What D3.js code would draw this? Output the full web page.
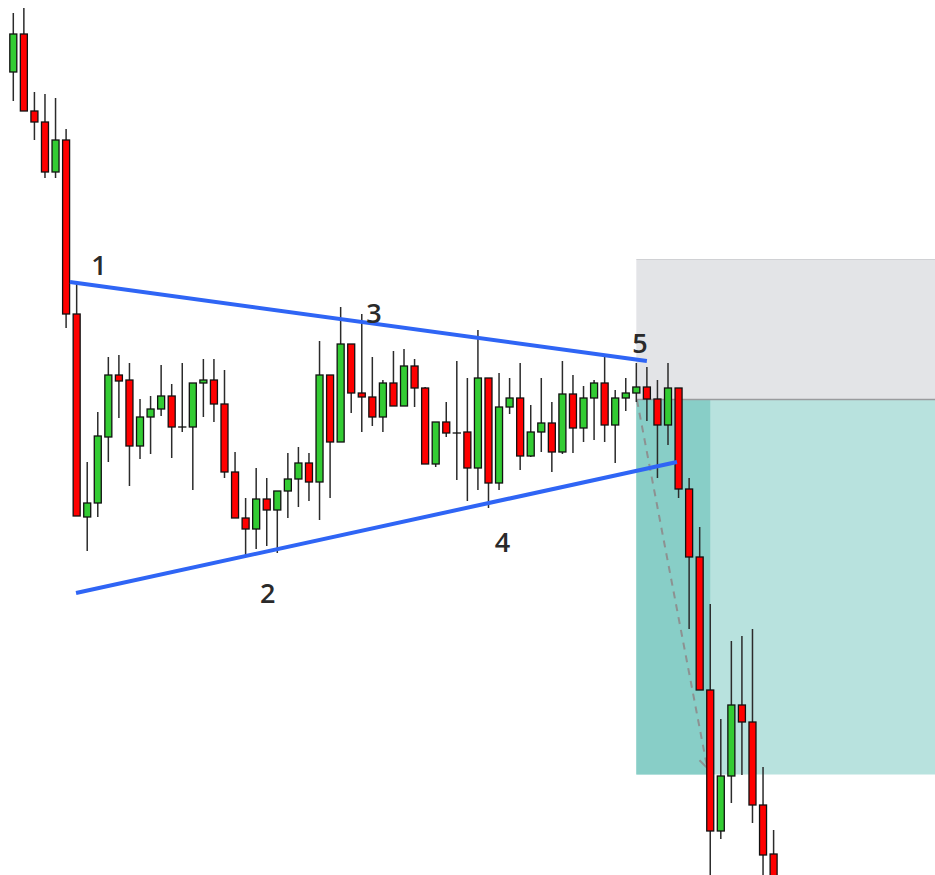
<!DOCTYPE html>
<html>
<head>
<meta charset="utf-8">
<script src="https://cdn.jsdelivr.net/npm/d3@7"></script>
<style>
  html, body { margin: 0; padding: 0; background: #ffffff; overflow: hidden; }
  svg { display: block; }
</style>
</head>
<body>
<svg id="chart" width="935" height="875"></svg>
<script>
// ---- Data (prices) ----
const opens  = [182.8,186.6,178.9,177.8,172.8,176.0,158.6,138.3,139.7,146.3,152.5,152.0,145.4,148.3,149.1,150.4,147.3,147.3,151.7,152.0,149.6,142.8,138.2,137.1,140.1,139.0,140.9,142.1,143.7,141.8,152.5,145.8,155.6,150.7,150.3,148.3,151.7,149.4,153.4,151.2,143.6,147.8,146.7,146.8,143.2,152.2,141.7,149.3,150.2,144.4,146.8,147.7,144.8,150.6,147.2,150.2,151.7,147.5,150.2,150.7,151.3,150.1,147.5,151.2,141.1,134.3,121.0,106.9,112.4,119.5,117.8,109.5,104.6];
const highs  = [188.7,189.2,180.8,180.6,180.2,177.1,161.8,143.8,148.8,154.3,154.5,153.7,150.1,150.4,153.5,151.6,153.7,151.7,154.1,154.1,153.0,144.8,140.2,143.2,142.2,140.9,144.7,145.3,144.7,155.9,152.5,159.3,155.6,158.6,154.3,152.0,154.9,155.1,154.1,151.3,147.8,149.8,153.9,152.2,157.0,152.2,152.7,152.2,153.7,149.5,152.2,149.8,153.9,152.5,151.4,152.0,154.6,151.0,152.2,153.7,153.3,152.0,153.7,151.2,142.2,137.3,129.6,118.1,125.9,126.4,127.1,113.3,107.0];
const lows   = [179.9,178.9,176.0,172.2,172.2,157.2,138.4,134.9,138.3,143.8,148.2,141.4,144.1,144.6,148.4,144.2,146.8,141.0,148.3,147.8,142.2,138.2,134.3,135.1,135.4,134.7,138.2,139.3,139.9,138.0,140.2,145.8,148.7,146.8,147.4,146.8,149.4,149.4,149.3,143.6,143.3,146.3,142.0,139.9,141.0,139.2,141.0,148.6,143.0,144.3,144.8,142.8,144.6,144.7,145.8,146.0,145.8,143.7,148.9,149.8,147.9,142.2,145.5,140.2,127.1,121.0,102.0,106.1,109.7,112.5,107.7,102.0,100.0];
const closes = [186.6,178.9,177.8,172.8,176.0,158.6,138.4,139.7,146.4,152.5,151.9,145.4,148.3,149.1,150.4,147.3,147.3,151.7,152.0,149.6,142.8,138.2,137.1,140.1,139.0,140.9,142.1,143.7,141.8,152.5,145.8,155.6,150.7,150.3,148.3,151.7,149.4,153.4,151.2,143.6,147.8,146.7,146.7,143.2,152.2,141.7,149.3,150.2,144.4,146.8,147.7,144.8,150.6,147.2,150.2,151.7,147.5,150.2,150.7,151.3,150.1,147.5,151.2,141.1,134.3,121.0,106.9,112.4,119.5,117.8,109.5,104.5,100.5];

// Trendlines: [startIndex, startPrice, endIndex, endPrice]
const upperLine = [5.37, 161.8, 60.0, 153.9];
const lowerLine = [5.94, 130.7, 62.85, 143.8];

// Swing-point labels
const labelTexts  = ["1", "2", "3", "4", "5"];
const labelIndex  = [8.12, 24.1, 34.16, 46.33, 59.35];
const labelPrice  = [162.5, 129.7, 157.7, 134.8, 154.7];

// Short-position tool: entry, stop, target, start bar, end-of-trade bar
const positionStart = 59.0;
const positionFillEnd = 66.0;
const stopPrice = 164.05;
const entryPrice = 150.05;
const targetPrice = 112.55;
const pathLine = [59.06, 150.0, 65.72, 113.2];

// ---- Scales ----
const W = 935, H = 875;
const svg = d3.select("#chart");
const x = d3.scaleLinear().domain([0, 72]).range([13.3, 773.6]);
const y = d3.scaleLinear().domain([102.5, 190]).range([H, 0]);
const bodyW = 7;

// ---- Position boxes ----
const gPos = svg.append("g");
gPos.append("rect")
  .attr("x", x(positionStart)).attr("y", y(stopPrice))
  .attr("width", W - x(positionStart)).attr("height", y(entryPrice) - y(stopPrice))
  .attr("fill", "#e3e4e7");
gPos.append("line")
  .attr("x1", x(positionStart)).attr("x2", W)
  .attr("y1", y(stopPrice)).attr("y2", y(stopPrice))
  .attr("stroke", "#d0d1d4").attr("stroke-width", 1.2);
gPos.append("rect")
  .attr("x", x(positionStart)).attr("y", y(entryPrice))
  .attr("width", W - x(positionStart)).attr("height", y(targetPrice) - y(entryPrice))
  .attr("fill", "#b8e2de");
gPos.append("rect")
  .attr("x", x(positionStart)).attr("y", y(entryPrice))
  .attr("width", x(positionFillEnd) - x(positionStart)).attr("height", y(targetPrice) - y(entryPrice))
  .attr("fill", "#88cec7");
gPos.append("line")
  .attr("x1", x(positionStart)).attr("x2", W)
  .attr("y1", y(entryPrice)).attr("y2", y(entryPrice))
  .attr("stroke", "#9a9b9e").attr("stroke-width", 1.6);

// dashed path with arrow head
const px1 = x(pathLine[0]), py1 = y(pathLine[1]), px2 = x(pathLine[2]), py2 = y(pathLine[3]);
gPos.append("line")
  .attr("x1", px1).attr("y1", py1).attr("x2", px2).attr("y2", py2)
  .attr("stroke", "#8d9191").attr("stroke-width", 2).attr("stroke-dasharray", "7,6");
const ang = Math.atan2(py2 - py1, px2 - px1);
const ah = 11;
gPos.append("path")
  .attr("d", `M${px2 + ah*Math.cos(ang + Math.PI - 0.6)},${py2 + ah*Math.sin(ang + Math.PI - 0.6)} L${px2},${py2} L${px2 + ah*Math.cos(ang + Math.PI + 0.6)},${py2 + ah*Math.sin(ang + Math.PI + 0.6)}`)
  .attr("fill", "none").attr("stroke", "#8d9191").attr("stroke-width", 2);

// ---- Candles ----
const data = opens.map((o, i) => ({ i, o, h: highs[i], l: lows[i], c: closes[i] }));
const gC = svg.append("g");
const cg = gC.selectAll("g.c").data(data).join("g").attr("class", "c");
cg.append("line")
  .attr("x1", d => x(d.i)).attr("x2", d => x(d.i))
  .attr("y1", d => y(d.h)).attr("y2", d => y(d.l))
  .attr("stroke", "#2b2b2b").attr("stroke-width", 1.5);
cg.append("rect")
  .attr("x", d => x(d.i) - bodyW / 2)
  .attr("y", d => y(Math.max(d.o, d.c)))
  .attr("width", bodyW)
  .attr("height", d => Math.max(0.01, Math.abs(y(d.o) - y(d.c))))
  .attr("fill", d => d.c >= d.o ? "#33cc33" : "#ff0000")
  .attr("stroke", "#111").attr("stroke-width", 1.3);

// ---- Trendlines ----
[upperLine, lowerLine].forEach(L => {
  svg.append("line")
    .attr("x1", x(L[0])).attr("y1", y(L[1]))
    .attr("x2", x(L[2])).attr("y2", y(L[3]))
    .attr("stroke", "#2f65f5").attr("stroke-width", 4).attr("stroke-linecap", "butt");
});

// ---- Labels ----
svg.selectAll("text.lbl").data(labelTexts).join("text")
  .attr("class", "lbl")
  .attr("x", (d, i) => x(labelIndex[i]))
  .attr("y", (d, i) => y(labelPrice[i]))
  .attr("text-anchor", "middle")
  .attr("font-family", "'Open Sans', 'Liberation Sans', Arial, sans-serif")
  .attr("font-weight", 600)
  .attr("font-size", 27)
  .attr("fill", "#2a2a2a")
  .text(d => d);
</script>
</body>
</html>
